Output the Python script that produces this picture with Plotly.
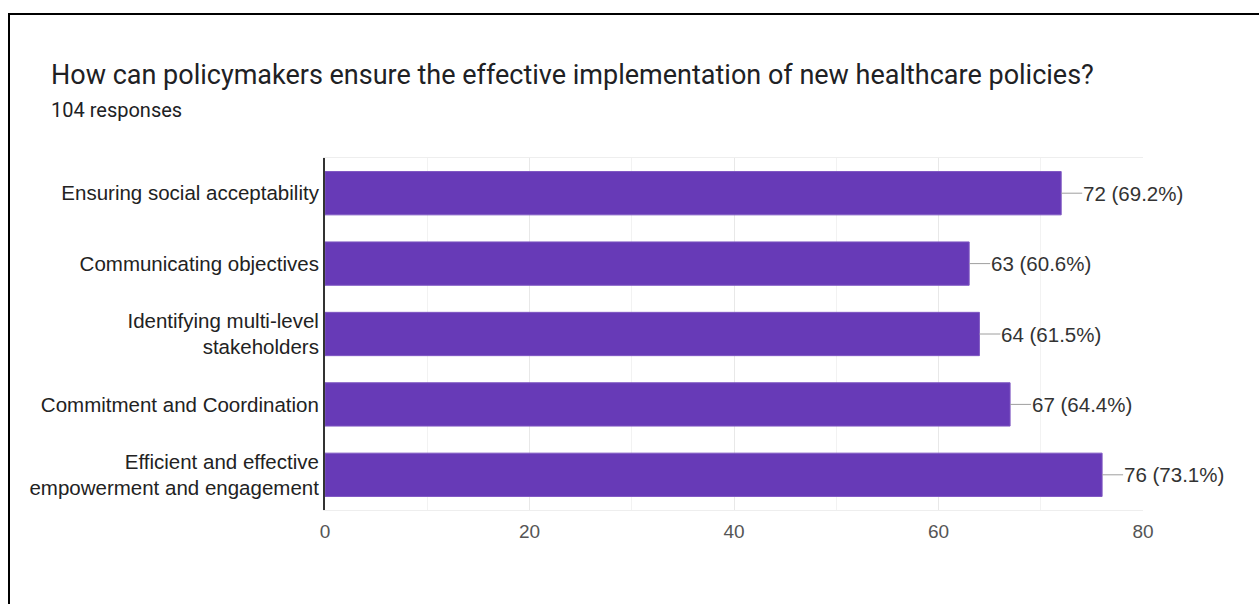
import plotly.graph_objects as go

categories = ["Ensuring social acceptability", "Communicating objectives",
              "Identifying multi-level<br>stakeholders", "Commitment and Coordination",
              "Efficient and effective<br>empowerment and engagement"]
counts = [72, 63, 64, 67, 76]
percents = [69.2, 60.6, 61.5, 64.4, 73.1]
x_ticks = [0, 20, 40, 60, 80]

W, H = 1259, 604
L, R, T, B = 325, 1143, 158, 510
FS = 20.5

fig = go.Figure(go.Bar(
    x=counts, y=categories, orientation="h",
    marker=dict(color="#673ab7", line=dict(color="#7e57c2", width=1)),
    hoverinfo="skip",
))

for c, p, cat in zip(counts, percents, categories):
    fig.add_annotation(x=c, y=cat, text=f"{c} ({p}%)", showarrow=True,
                       arrowhead=0, arrowwidth=1, arrowcolor="#9e9e9e",
                       ax=21, ay=0, xanchor="left", standoff=0, startstandoff=0,
                       borderpad=0,
                       font=dict(family="Liberation Sans, Arial", size=FS, color="#333333"))

def px_x(px):
    return (px - L) / (R - L)

def px_y(py):
    return (B - py) / (B - T)

# screenshot border
fig.add_shape(type="path", xref="paper", yref="paper",
              path=f"M {px_x(9)} {px_y(620)} L {px_x(9)} {px_y(14)} L {px_x(1270)} {px_y(14)}",
              line=dict(color="black", width=2))

fig.add_annotation(xref="paper", yref="paper", x=px_x(49), y=px_y(75), xanchor="left", yanchor="middle",
                   text="How can policymakers ensure the effective implementation of new healthcare policies?",
                   showarrow=False, font=dict(family="Roboto", size=27, color="#202124"))
fig.add_annotation(xref="paper", yref="paper", x=px_x(49), y=px_y(110), xanchor="left", yanchor="middle",
                   text="104 responses", showarrow=False,
                   font=dict(family="Roboto", size=20, color="#202124"))

fig.update_layout(
    width=W, height=H,
    margin=dict(l=L, r=W - R, t=T, b=H - B),
    plot_bgcolor="white", paper_bgcolor="white",
    bargap=0.385,
    showlegend=False,
    font=dict(family="Liberation Sans, Arial", size=FS, color="#333333"),
)
fig.update_xaxes(range=[0, 80], tickvals=x_ticks, showgrid=True, gridcolor="#e8e8e8",
                 minor=dict(dtick=10, showgrid=True, gridcolor="#f2f2f2"),
                 showline=True, mirror=True, linecolor="#eeeeee", zeroline=False,
                 tickfont=dict(size=19, color="#555555"), ticks="", ticklen=0,
                 ticklabelstandoff=4)
fig.update_yaxes(autorange="reversed", showline=True, linecolor="#333333", linewidth=2,
                 ticks="", ticklabelstandoff=0, tickfont=dict(size=FS, color="#222222"))

fig.write_html("out.html", config={"displayModeBar": False},
               post_script="document.body.style.margin='0';")
